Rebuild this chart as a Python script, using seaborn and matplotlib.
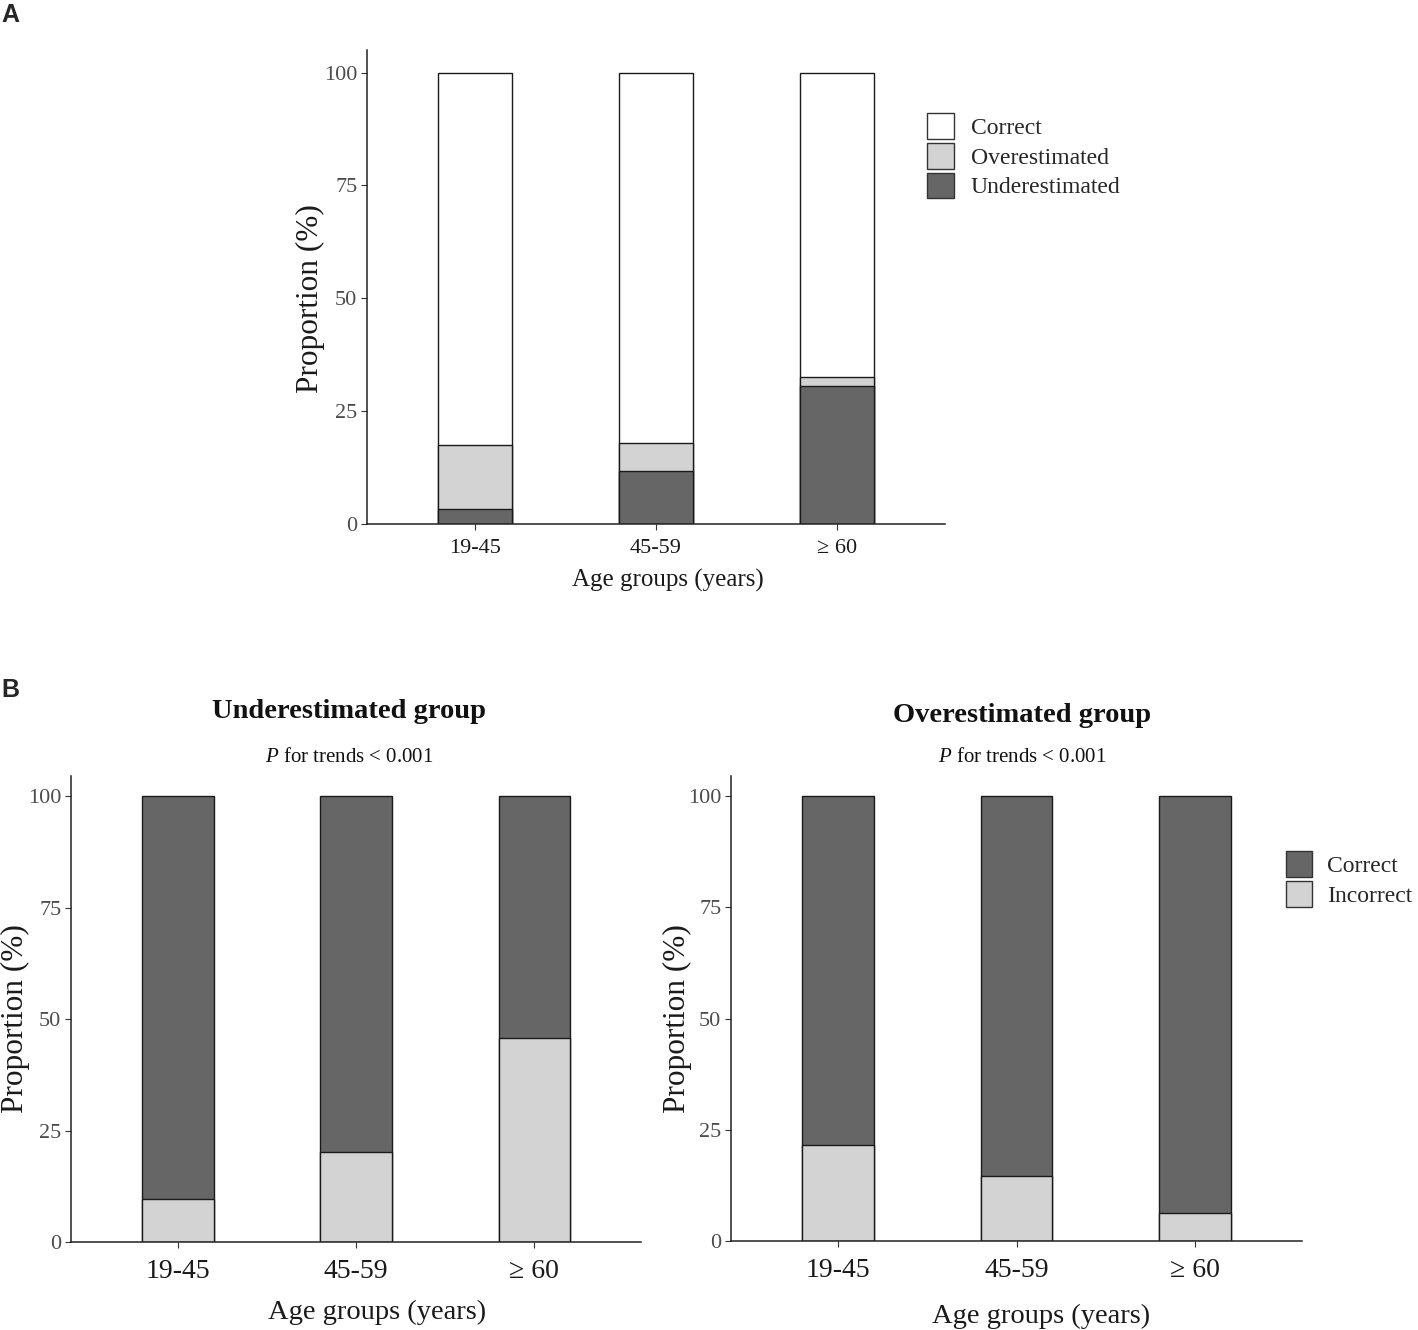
import matplotlib
matplotlib.use("Agg")
import matplotlib.pyplot as plt
from matplotlib.patches import Patch
import seaborn as sns

# age groups on the x axis
ages = ["19-45", "45-59", "\u2265 60"]

# panel A: share of each estimation type (%)
a_under = [3.3, 11.8, 30.6]
a_over = [14.2, 6.2, 2.0]

# panel B: share of incorrect within each group (%)
b_under_incorrect = [9.6, 20.2, 45.7]
b_over_incorrect = [21.6, 14.6, 6.3]

DARK = "#666666"
LIGHT = "#d3d3d3"
W, H = 1418, 1330

sns.set_theme(style="ticks")
plt.rcParams["font.family"] = ["Liberation Serif", "DejaVu Serif"]
plt.rcParams["mathtext.fontset"] = "custom"
plt.rcParams["mathtext.it"] = "Liberation Serif:italic"
plt.rcParams["mathtext.rm"] = "Liberation Serif"

fig = plt.figure(figsize=(W / 100, H / 100), dpi=100)


def px_axes(left, top, right, bottom):
    return fig.add_axes([left / W, 1 - bottom / H, (right - left) / W, (bottom - top) / H])


def style_axes(ax, ytop, xsize, xpad, xlabsize, xlabpad, xlab_x, ylab_xy):
    ax.set_xlim(-0.6, 2.6)
    ax.set_ylim(0, ytop)
    ax.set_yticks([0, 25, 50, 75, 100])
    sns.despine(ax=ax)
    for s in ["left", "bottom"]:
        ax.spines[s].set_linewidth(1.1)
        ax.spines[s].set_color("#222222")
    ax.tick_params(axis="both", length=4, width=0.8, color="#333333", pad=3)
    ax.tick_params(axis="y", labelsize=16, labelcolor="#4d4d4d")
    ax.tick_params(axis="x", labelsize=xsize, labelcolor="#1a1a1a", pad=xpad)
    ax.set_xlabel("Age groups (years)", fontsize=xlabsize, color="#1a1a1a", labelpad=xlabpad)
    ax.xaxis.label.set_x(xlab_x)
    ax.set_ylabel("Proportion (%)", fontsize=22.5, color="#1a1a1a", va="center")
    ax.yaxis.set_label_coords(*ylab_xy)


def bars(ax, heights, color, width):
    sns.barplot(x=ages, y=heights, color=color, edgecolor="#1a1a1a", linewidth=1.0,
                width=width, saturation=1, ax=ax)


# ---------- panel A ----------
axA = px_axes(367, 50, 945, 524)
top_a = [100, 100, 100]
mid_a = [u + o for u, o in zip(a_under, a_over)]
bars(axA, top_a, "white", 0.41)
bars(axA, mid_a, LIGHT, 0.41)
bars(axA, a_under, DARK, 0.41)
style_axes(axA, 105, 16, 7, 18, 8, 0.521, (-0.0986, 0.475))

handles_a = [Patch(facecolor="white", edgecolor="#333333", label="Correct"),
             Patch(facecolor=LIGHT, edgecolor="#333333", label="Overestimated"),
             Patch(facecolor=DARK, edgecolor="#333333", label="Underestimated")]
fig.legend(handles=handles_a, loc="upper left", bbox_to_anchor=(927 / W, 1 - 113 / H),
           frameon=False, fontsize=17, handlelength=1.15, handleheight=1.3,
           handletextpad=0.7, labelspacing=0.17, borderpad=0, borderaxespad=0)

# ---------- panel B ----------
panels_b = [((71, 776, 641, 1242), b_under_incorrect, "Underestimated group", 711, 349,
             (-0.0982, 0.479), 12, 0.537),
            ((731, 776, 1302, 1241), b_over_incorrect, "Overestimated group", 715, 1022,
             (-0.0946, 0.479), 15, 0.543)]
for box, incorrect, title, ty, tx, ylab_xy, xlabpad, xlab_x in panels_b:
    ax = px_axes(*box)
    bars(ax, [100, 100, 100], DARK, 0.40)
    bars(ax, incorrect, LIGHT, 0.40)
    style_axes(ax, 104.5, 20, 8, 20.5, xlabpad, xlab_x, ylab_xy)
    fig.text(tx / W, 1 - ty / H, title, fontsize=20.5, fontweight="bold",
             ha="center", va="center", color="#111111")
    fig.text(tx / W, 1 - 758 / H, r"$P$ for trends < 0.001", fontsize=15,
             ha="center", va="center", color="#111111")

handles_b = [Patch(facecolor=DARK, edgecolor="#333333", label="Correct"),
             Patch(facecolor=LIGHT, edgecolor="#333333", label="Incorrect")]
fig.legend(handles=handles_b, loc="upper left", bbox_to_anchor=(1286 / W, 1 - 851 / H),
           frameon=False, fontsize=17, handlelength=1.1, handleheight=1.3,
           handletextpad=0.65, labelspacing=0.17, borderpad=0, borderaxespad=0)

# panel letters
for letter, y in [("A", 15), ("B", 690)]:
    fig.text(10 / W, 1 - y / H, letter, fontsize=18, fontweight="bold",
             family=["Liberation Sans", "DejaVu Sans"], ha="center", va="center")

fig.savefig("out.png", dpi=100)
